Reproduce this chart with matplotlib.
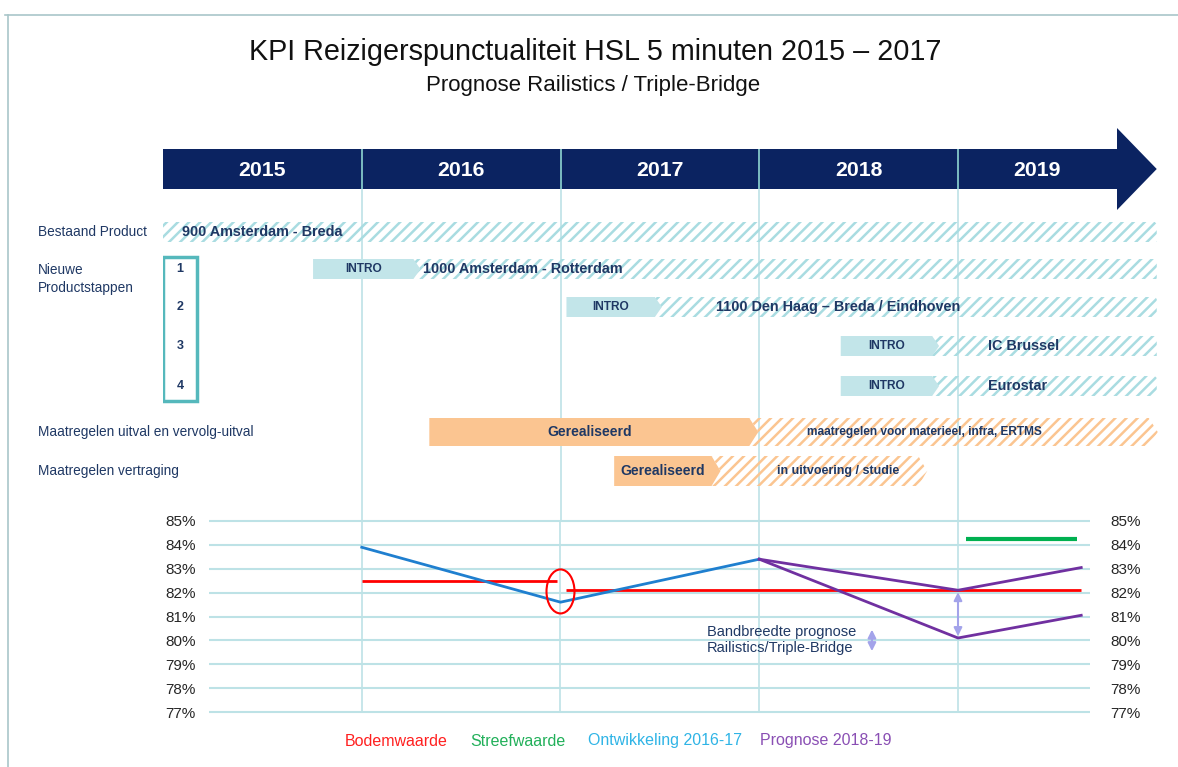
import matplotlib.pyplot as plt
from matplotlib import font_manager
from matplotlib.patches import Polygon, Rectangle, Ellipse
from matplotlib.lines import Line2D

# Smal lettertype voor het planningsdeel (valt terug op gewone breedte)
try:
    font_manager.findfont('Liberation Sans Narrow', fallback_to_default=False)
    SMAL, K = 'Liberation Sans Narrow', 1 / 0.82
except ValueError:
    SMAL, K = 'Liberation Sans', 1.0
GEWOON = 'Liberation Sans'
plt.rcParams['font.family'] = [GEWOON, 'DejaVu Sans']
plt.rcParams['hatch.linewidth'] = 1.8

# ---- data ----
jaren = [2015, 2016, 2017, 2018, 2019]
producten = ['900 Amsterdam - Breda', '1000 Amsterdam - Rotterdam',
             '1100 Den Haag – Breda / Eindhoven', 'IC Brussel', 'Eurostar']
intro_start = [None, 2015.755, 2017.03, 2018.41, 2018.41]
intro_eind = [None, 2016.26, 2017.475, 2018.87, 2018.87]
product_eind = 2020.0

maatregelen = ['Maatregelen uitval en vervolg-uitval', 'Maatregelen vertraging']
gereal_start = [2016.34, 2017.27]
gereal_eind = [2017.95, 2017.76]
lopend_eind = [2019.96, 2018.80]
lopend_tekst = ['maatregelen voor materieel, infra, ERTMS', 'in uitvoering / studie']

ontw_jaar = [2016, 2017, 2018]
ontw_waarde = [83.9, 81.6, 83.4]
progn_jaar = [2018, 2019, 2019.62]
progn_hoog = [83.4, 82.1, 83.05]
progn_laag = [83.4, 80.1, 81.05]
bodem_van = [2016.0, 2017.03]
bodem_tot = [2016.98, 2019.62]
bodem_waarde = [82.5, 82.1]
streef_van, streef_tot, streef_waarde = 2019.04, 2019.6, 84.25
y_ticks = [77, 78, 79, 80, 81, 82, 83, 84, 85]

# ---- layout in pixels ----
W, H = 1178, 767
X0, PPJ = 163, 198.75          # x van 2015 en pixels per jaar
def fx(px): return px / W
def fy(py): return 1 - py / H

NAVY = '#0b2361'
TEKST = '#1f3864'
TEAL = '#a9dce1'
LIJN = '#bde2e6'
ORANJE = '#fbc591'

fig = plt.figure(figsize=(W / 100, H / 100), dpi=100)

# rand
fig.add_artist(Line2D([fx(5), 1], [fy(15), fy(15)], color='#a9c6c9', lw=1.2))
fig.add_artist(Line2D([fx(8), fx(8)], [fy(15), 0], color='#a9c6c9', lw=1.2))

fig.text(fx(595), fy(52), 'KPI Reizigerspunctualiteit HSL 5 minuten 2015 – 2017',
         family=SMAL, fontsize=20.7 * K, ha='center', va='center', color='#111111')
fig.text(fx(593), fy(86), 'Prognose Railistics / Triple-Bridge',
         family=SMAL, fontsize=16 * K, ha='center', va='center', color='#111111')

# ---- planning (gantt) ----
axg = fig.add_axes([fx(X0), fy(521), 5 * PPJ / W, (521 - 120) / H])
axg.set_xlim(2015, 2020)
axg.set_ylim(521, 120)
axg.axis('off')

pijl_body = 2019.8
header = Polygon([(2015, 149), (pijl_body, 149), (pijl_body, 128), (2020.0, 169),
                  (pijl_body, 210), (pijl_body, 189), (2015, 189)],
                 closed=True, facecolor=NAVY, edgecolor='none', clip_on=False, zorder=2)
axg.add_patch(header)
for j in jaren:
    xm = j + 0.5 if j < 2019 else (j + pijl_body) / 2
    axg.text(xm, 170, str(j), color='white', fontweight='bold', family=SMAL,
             fontsize=15.3 * K, ha='center', va='center', zorder=5)
axg.vlines(jaren[1:], 149, 189, color='#8fd6d2', lw=1.2, zorder=3)
axg.vlines(jaren[1:], 189, 521, color=LIJN, lw=1.2, zorder=1)

rij_y = [232, 269, 307, 346, 386]
bh = 20
tip = 0.035
for i, naam in enumerate(producten):
    yc = rij_y[i]
    y0, y1 = yc - bh / 2, yc + bh / 2
    start = 2015 if intro_start[i] is None else intro_eind[i]
    axg.add_patch(Polygon([(start, y0), (product_eind - 0.01, y0), (product_eind, y0 + 2),
                           (product_eind, y1), (start, y1)], closed=True,
                          facecolor='none', edgecolor=TEAL, lw=0, hatch='///',
                          clip_on=False, zorder=2))
    if intro_start[i] is not None:
        s, e = intro_start[i], intro_eind[i]
        axg.add_patch(Polygon([(s, y0), (e, y0), (e + tip, yc), (e, y1), (s, y1)],
                              closed=True, facecolor='#c2e5e9', edgecolor='none', zorder=3))
        axg.text((s + e) / 2, yc, 'INTRO', family=SMAL, fontsize=8.6 * K, color=TEKST,
                 fontweight='bold', ha='center', va='center', zorder=6)
    tx = {0: 2015.095, 1: 2016.31, 2: 2017.78, 3: 2019.15, 4: 2019.15}[i]
    axg.text(tx, yc, naam, family=SMAL, fontsize=10.4 * K, fontweight='bold',
             color=TEKST, ha='left', va='center', zorder=6)

# nummerkader
axg.add_patch(Rectangle((2015, 257), 34 / PPJ, 144, fill=False, edgecolor='#55b8bc',
                        lw=2.5, zorder=4))
for n, yc in enumerate(rij_y[1:], start=1):
    axg.text(2015 + 17 / PPJ, yc, str(n), family=SMAL, fontsize=9 * K, fontweight='bold',
             color=TEKST, ha='center', va='center', zorder=6)

# maatregelen
m_y = [432, 471]
m_h = [28, 30]
otip = 0.045
for i in range(len(maatregelen)):
    yc = m_y[i]
    y0, y1 = yc - m_h[i] / 2, yc + m_h[i] / 2
    s, e, le = gereal_start[i], gereal_eind[i], lopend_eind[i]
    axg.add_patch(Polygon([(e, y0), (le, y0), (le + otip, yc), (le, y1), (e, y1),
                           (e + otip, yc)], closed=True, facecolor='none',
                          edgecolor=ORANJE, lw=0, hatch='///', clip_on=False, zorder=2))
    axg.add_patch(Polygon([(s, y0), (e, y0), (e + otip, yc), (e, y1), (s, y1)],
                          closed=True, facecolor=ORANJE, edgecolor='none', zorder=2))
    axg.text((s + e) / 2, yc, 'Gerealiseerd', family=SMAL, fontsize=10 * K,
             fontweight='bold', color=TEKST, ha='center', va='center', zorder=6)
    tx = [2018.24, 2018.09][i]
    axg.text(tx, yc, lopend_tekst[i], family=SMAL, fontsize=[8.6, 9][i] * K,
             fontweight='bold', color=TEKST, ha='left', va='center', zorder=6)
    fig.text(fx(38), fy(yc), maatregelen[i], family=SMAL, fontsize=9.8 * K,
             color=TEKST, ha='left', va='center')

fig.text(fx(38), fy(rij_y[0]), 'Bestaand Product', family=SMAL, fontsize=9.8 * K,
         color=TEKST, ha='left', va='center')
fig.text(fx(38), fy(279), 'Nieuwe\nProductstappen', family=SMAL, fontsize=9.8 * K,
         color=TEKST, ha='left', va='center', linespacing=1.35)

# ---- lijngrafiek ----
CL, CR = 207, 1099
axc = fig.add_axes([fx(CL), fy(712), (CR - CL) / W, (712 - 521) / H])
axc.set_xlim(2015 + (CL - X0) / PPJ, 2015 + (CR - X0) / PPJ)
axc.set_ylim(77, 85)
for sp in axc.spines.values():
    sp.set_visible(False)
axc.set_xticks([])
axc.set_yticks(y_ticks, [f'{v}%' for v in y_ticks])
axc.tick_params(axis='y', length=0, pad=8, labelsize=11, labelcolor='#262626',
                labelleft=True, labelright=True)
axc.hlines(y_ticks, 2015 + (209 - X0) / PPJ, 2015 + (1090 - X0) / PPJ,
           color=LIJN, lw=1.5, clip_on=False, zorder=1)
axc.vlines(jaren[1:], 77, 85, color=LIJN, lw=1.2, zorder=1)

axc.hlines(bodem_waarde, bodem_van, bodem_tot, color='#ff0000', lw=2, zorder=3)
axc.hlines(streef_waarde, streef_van, streef_tot, color='#00b050', lw=3, zorder=3)
axc.plot(ontw_jaar, ontw_waarde, color='#1f7fcf', lw=2, zorder=4)
axc.plot(progn_jaar, progn_hoog, color='#7030a0', lw=2, zorder=4)
axc.plot(progn_jaar, progn_laag, color='#7030a0', lw=2, zorder=4)
axc.add_patch(Ellipse((2017, 82.05), 28 / PPJ, 44 / 23.875, fill=False,
                      edgecolor='#ff0000', lw=1.5, zorder=5))

pijl = dict(arrowstyle='<|-|>', color='#a3a3ea', lw=1.5, mutation_scale=12,
            shrinkA=0, shrinkB=0)
axc.annotate('', xy=(2019, progn_laag[1] + 0.08), xytext=(2019, progn_hoog[1] - 0.08),
             arrowprops=pijl, zorder=5)
axc.annotate('', xy=(2018.567, 79.55), xytext=(2018.567, 80.45), arrowprops=pijl, zorder=5)
axc.text(2017.737, 80.0, 'Bandbreedte prognose\nRailistics/Triple-Bridge', color=TEKST,
         fontsize=10.5, ha='left', va='center', linespacing=1.2)

# legenda
leg = [('Bodemwaarde', '#ff2020', 345), ('Streefwaarde', '#22b05a', 470),
       ('Ontwikkeling 2016-17', '#2fb4e6', 588), ('Prognose 2018-19', '#8a4fb4', 760)]
for tekst, kleur, x in leg:
    fig.text(fx(x), fy(741), tekst, color=kleur, fontsize=11.5, ha='left', va='center')

fig.savefig('out.png', dpi=100)
